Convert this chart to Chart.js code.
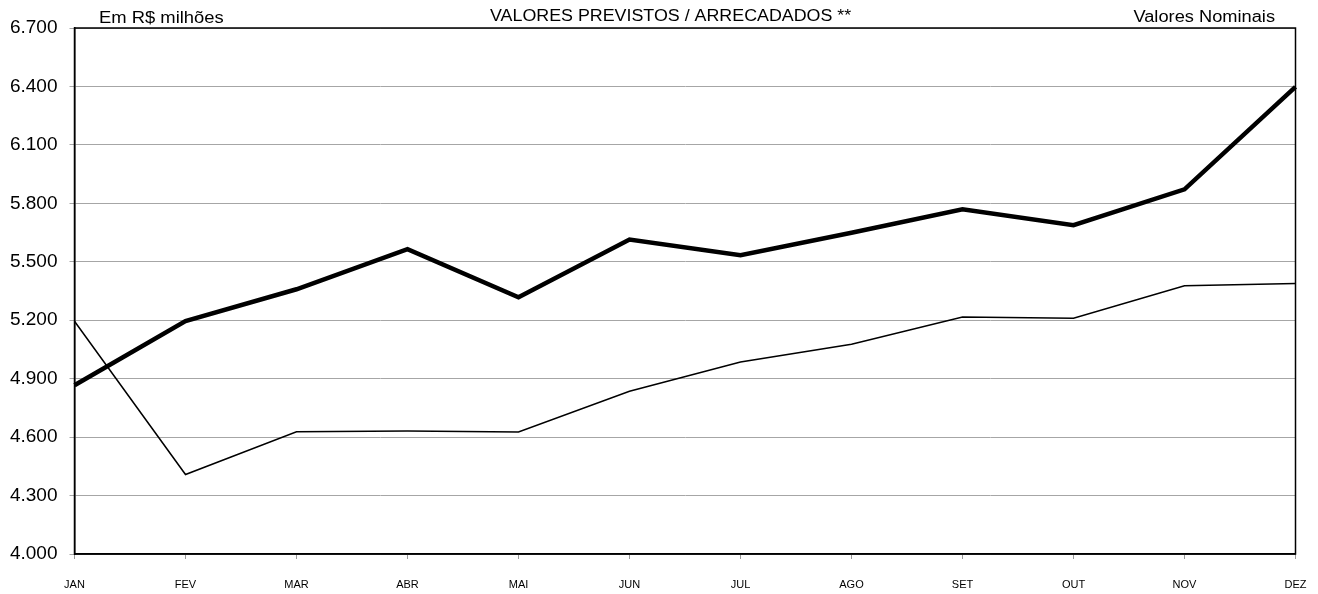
<!DOCTYPE html>
<html>
<head>
<meta charset="utf-8">
<script src="https://cdn.jsdelivr.net/npm/chart.js@4"></script>
<style>
  html, body { margin: 0; padding: 0; background: #fff; }
  #wrap { width: 1318px; height: 594px; position: relative; }
</style>
</head>
<body>
<div id="wrap"><canvas id="c" width="1318" height="594"></canvas></div>
<script>
const months = ['JAN','FEV','MAR','ABR','MAI','JUN','JUL','AGO','SET','OUT','NOV','DEZ'];
const previstos = [4866, 5196, 5359, 5565, 5318, 5614, 5534, 5649, 5770, 5688, 5872, 6398];
const arrecadados = [5195, 4408, 4627, 4632, 4626, 4835, 4985, 5077, 5217, 5210, 5377, 5388];
const yTicks = [4000, 4300, 4600, 4900, 5200, 5500, 5800, 6100, 6400, 6700];
const titleLeft = 'Em R$ milhões';
const titleCenter = 'VALORES PREVISTOS / ARRECADADOS **';
const titleRight = 'Valores Nominais';

const FONT = '"Liberation Sans", Arial, sans-serif';

const fmt = v => String(v).replace(/\B(?=(\d{3})+(?!\d))/g, '.');

function stretchedText(ctx, text, x, y, align, sx) {
  ctx.save();
  ctx.translate(x, y);
  ctx.scale(sx, 1);
  ctx.textAlign = align;
  ctx.fillText(text, 0, 0);
  ctx.restore();
}

const boxAndTitles = {
  id: 'boxAndTitles',
  beforeDatasetsDraw(chart) {
    const {ctx, chartArea: a} = chart;
    ctx.save();
    ctx.strokeStyle = '#000';
    ctx.lineWidth = 1.5;
    ctx.strokeRect(a.left, a.top, a.right - a.left, a.bottom - a.top);
    ctx.restore();
  },
  afterDraw(chart) {
    const {ctx} = chart;
    ctx.save();
    ctx.fillStyle = '#000';
    ctx.textBaseline = 'alphabetic';
    ctx.font = '16px ' + FONT;
    stretchedText(ctx, titleLeft, 99, 23, 'left', 1.15);
    stretchedText(ctx, titleCenter, 490, 21, 'left', 1.115);
    stretchedText(ctx, titleRight, 1275, 21.5, 'right', 1.14);
    ctx.restore();
  }
};

new Chart(document.getElementById('c'), {
  type: 'line',
  data: {
    labels: months,
    datasets: [
      {
        label: 'Previstos',
        data: previstos,
        borderColor: '#000',
        borderWidth: 4.5,
        pointRadius: 0,
        tension: 0,
        fill: false
      },
      {
        label: 'Arrecadados',
        data: arrecadados,
        borderColor: '#000',
        borderWidth: 1.5,
        pointRadius: 0,
        tension: 0,
        fill: false
      }
    ]
  },
  options: {
    responsive: false,
    animation: false,
    layout: { padding: { top: 28, right: 22.5, left: 0, bottom: 0 } },
    plugins: {
      legend: { display: false },
      tooltip: { enabled: false },
      title: { display: false }
    },
    scales: {
      x: {
        offset: false,
        border: { display: true, color: '#000', width: 1.5 },
        grid: { drawOnChartArea: false, drawTicks: true, tickLength: 5, color: '#999' },
        ticks: {
          color: '#000',
          font: { family: FONT, size: 11 },
          padding: 19,
          maxRotation: 0,
          autoSkip: false
        },
        afterFit(scale) {
          scale.height = 40;
          scale.paddingLeft = 0;
          scale.paddingRight = 0;
        }
      },
      y: {
        min: 4000,
        max: 6700,
        afterBuildTicks(scale) { scale.ticks = yTicks.map(v => ({ value: v })); },
        border: { display: true, color: '#000', width: 1.5 },
        grid: { color: '#a6a6a6', lineWidth: 1, tickLength: 5 },
        ticks: {
          color: '#000',
          font: { family: FONT, size: 19 },
          padding: 12,
          callback: v => fmt(v)
        },
        afterFit(scale) { scale.width = 74.5; }
      }
    }
  },
  plugins: [boxAndTitles]
});
</script>
</body>
</html>
